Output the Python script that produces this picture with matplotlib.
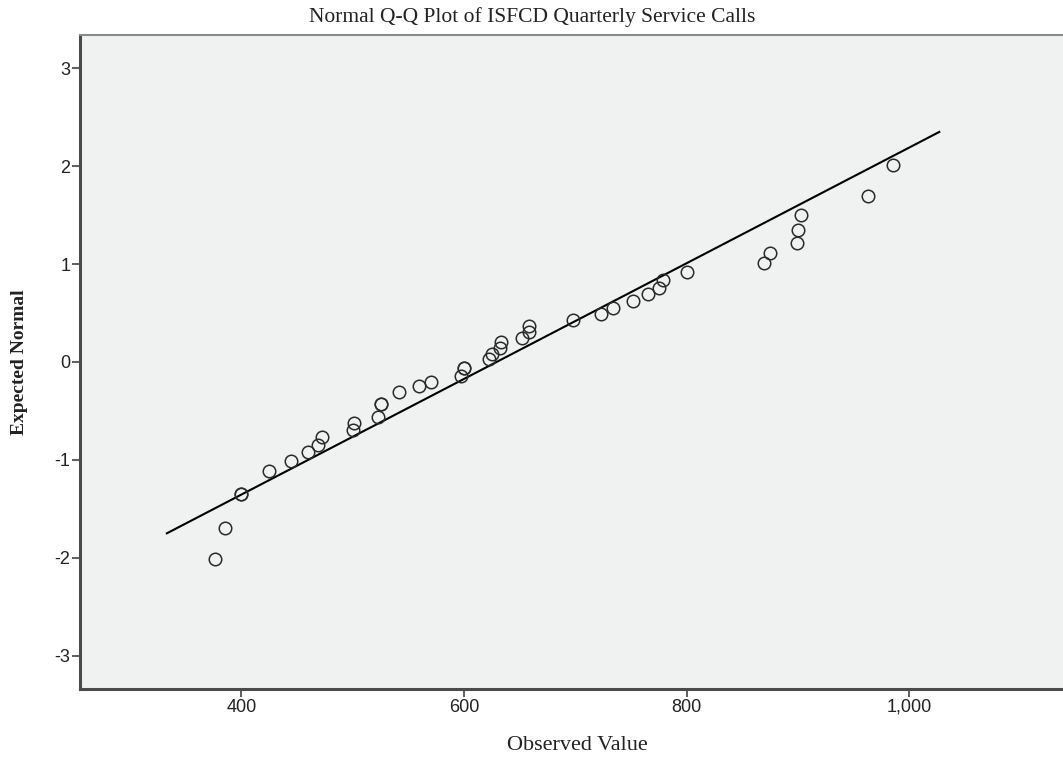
import matplotlib
matplotlib.use("Agg")
import matplotlib.pyplot as plt
from matplotlib.ticker import FuncFormatter

plt.rcParams['axes.unicode_minus'] = False

observed = [376, 385, 400, 400, 424.5, 444.6, 459.6, 468.6, 472.2, 500, 501,
            523, 525, 525, 542, 560, 570, 597, 600, 600, 622.8, 625, 632.7,
            633.3, 652, 658, 658.3, 698.3, 723.2, 733.6, 752.2, 765, 775.6,
            778.5, 800.4, 869.3, 875.3, 899.3, 900.5, 902.3, 962.7, 985.2]
expected = [-2.01, -1.70, -1.35, -1.35, -1.11, -1.01, -0.92, -0.85, -0.77,
            -0.69, -0.62, -0.56, -0.43, -0.43, -0.31, -0.25, -0.20, -0.14,
            -0.06, -0.06, 0.03, 0.08, 0.14, 0.20, 0.25, 0.31, 0.37, 0.43,
            0.49, 0.55, 0.62, 0.69, 0.76, 0.84, 0.92, 1.01, 1.11, 1.22, 1.35,
            1.50, 1.70, 2.01]

# reference line end points
line_x = [333, 1027]
line_y = [-1.75, 2.35]

x_ticks = [400, 600, 800, 1000]
y_ticks = [-3, -2, -1, 0, 1, 2, 3]

fig = plt.figure(figsize=(10.63, 7.61), dpi=100)
ax = fig.add_axes([80 / 1063, 72 / 761, 1063 / 1063, 654 / 761])
ax.set_facecolor('#f0f1f1')

ax.plot(line_x, line_y, color='black', linewidth=1.5, zorder=2)
ax.plot(observed, expected, linestyle='none', marker='o', markersize=9,
        markerfacecolor='none', markeredgecolor='#2a2a2a',
        markeredgewidth=1.1, zorder=3)

ax.set_xlim(255, 1210)
ax.set_ylim(-3.34, 3.34)
ax.set_xticks(x_ticks)
ax.set_yticks(y_ticks)
ax.xaxis.set_major_formatter(FuncFormatter(lambda v, p: f'{int(v):,}'))
ax.yaxis.set_major_formatter(FuncFormatter(lambda v, p: f'{int(v)}'))

ax.spines['right'].set_visible(False)
ax.spines['left'].set_linewidth(2.2)
ax.spines['left'].set_color('#4a4a4a')
ax.spines['bottom'].set_linewidth(2.2)
ax.spines['bottom'].set_color('#4a4a4a')
ax.spines['top'].set_linewidth(1.5)
ax.spines['top'].set_color('#8a8a8a')

ax.tick_params(direction='out', length=5.5, width=1.1, color='#333333',
               labelsize=13, pad=1.5)
for lab in ax.get_xticklabels() + ax.get_yticklabels():
    lab.set_fontfamily('Liberation Sans')
    lab.set_color('#222222')

fig.text(532 / 1063, 1 - 17 / 761, 'Normal Q-Q Plot of ISFCD Quarterly Service Calls',
         ha='center', va='center', fontfamily='Liberation Serif', fontsize=15.5,
         color='#222222')
fig.text(577 / 1063, 1 - 745 / 761, 'Observed Value', ha='center', va='center',
         fontfamily='Liberation Serif', fontsize=16, color='#222222')
fig.text(20 / 1063, 1 - 362 / 761, 'Expected Normal', ha='center', va='center',
         rotation=90, fontfamily='Liberation Serif', fontsize=14,
         fontweight='bold', color='#222222')

fig.savefig('out.png', dpi=100)
